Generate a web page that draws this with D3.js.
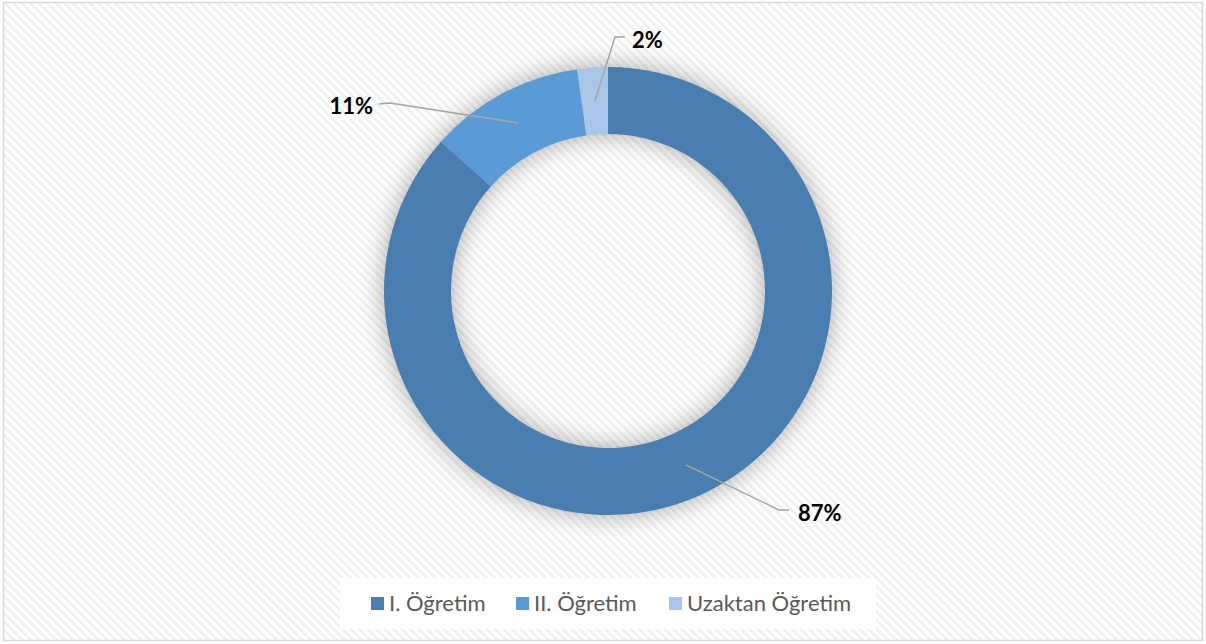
<!DOCTYPE html>
<html><head><meta charset="utf-8">
<script src="https://cdn.jsdelivr.net/npm/d3@7"></script>
<style>html,body{margin:0;padding:0;background:#fff;}svg{display:block;}</style>
</head><body>
<svg id="chart" width="1206" height="644"></svg>
<script>
const categories = ["I. Öğretim", "II. Öğretim", "Uzaktan Öğretim"];
const values = [86.6, 11.2, 2.2];
const labels = ["87%", "11%", "2%"];
const colors = ["#4a7eb0", "#5b9bd5", "#a9c5e7"];

const W = 1206, H = 644;
const svg = d3.select("#chart");
const defs = svg.append("defs");

// hatched background
const pat = defs.append("pattern").attr("id","hatch").attr("patternUnits","userSpaceOnUse")
  .attr("width",6).attr("height",6).attr("patternTransform","rotate(-45)");
pat.append("rect").attr("width",6).attr("height",6).attr("fill","#ffffff");
pat.append("rect").attr("width",2.5).attr("height",6).attr("fill","#efefef");

const glow = defs.append("filter").attr("id","glow").attr("x","-30%").attr("y","-30%").attr("width","160%").attr("height","160%");
glow.append("feGaussianBlur").attr("in","SourceAlpha").attr("stdDeviation",12).attr("result","b");
glow.append("feFlood").attr("flood-color","#000").attr("flood-opacity",0.34);
glow.append("feComposite").attr("in2","b").attr("operator","in");

svg.append("rect").attr("x",3.5).attr("y",2.5).attr("width",W-7).attr("height",H-6)
  .attr("fill","url(#hatch)").attr("stroke","#d9d9d9").attr("stroke-width",1.5);

const cx = 608, cy = 291, rOut = 224, rIn = 157;
const g = svg.append("g").attr("transform",`translate(${cx},${cy})`);

const pie = d3.pie().sort(null).value(d=>d).startAngle(0).endAngle(2*Math.PI);
const arcs = pie(values);
const arc = d3.arc().innerRadius(rIn).outerRadius(rOut);

// shadow ring
g.append("path").attr("d", d3.arc().innerRadius(rIn).outerRadius(rOut)({startAngle:0,endAngle:2*Math.PI}))
  .attr("fill","#000").attr("filter","url(#glow)");

g.selectAll("path.slice").data(arcs).enter().append("path").attr("class","slice")
  .attr("d",arc).attr("fill",(d,i)=>colors[i]);

// leader lines & labels (elbow points relative to centre)
const leaderLayout = [
  {elbow:[171,219], end:[181,219], anchor:"start", tx:190, ty:230},
  {elbow:[-218,-188], end:[-229,-187], anchor:"end", tx:-235, ty:-177},
  {elbow:[7,-254], end:[17,-254], anchor:"start", tx:24, ty:-243}
];
arcs.forEach((d,i)=>{
  const c = arc.centroid(d);
  const L = leaderLayout[i];
  g.append("polyline").attr("points",[c, L.elbow, L.end].map(p=>p.join(",")).join(" "))
    .attr("fill","none").attr("stroke","#a6a6a6").attr("stroke-width",1.5);
  g.append("text").attr("x",L.tx).attr("y",L.ty).attr("text-anchor",L.anchor)
    .attr("font-family","Lato, 'Open Sans', sans-serif").attr("font-weight","bold")
    .attr("font-size",22).attr("fill","#000").text(labels[i]);
});

// legend
const lg = svg.append("g");
lg.append("rect").attr("x",340).attr("y",578).attr("width",536).attr("height",51).attr("fill","#fff");
const legX = [371, 516, 669];
categories.forEach((c,i)=>{
  lg.append("rect").attr("x",legX[i]).attr("y",597).attr("width",13).attr("height",13).attr("fill",colors[i]);
  lg.append("text").attr("x",legX[i]+18).attr("y",611)
    .attr("font-family","Lato, 'Open Sans', sans-serif").attr("font-size",22).attr("fill","#595959").text(c);
});
</script>
</body></html>
